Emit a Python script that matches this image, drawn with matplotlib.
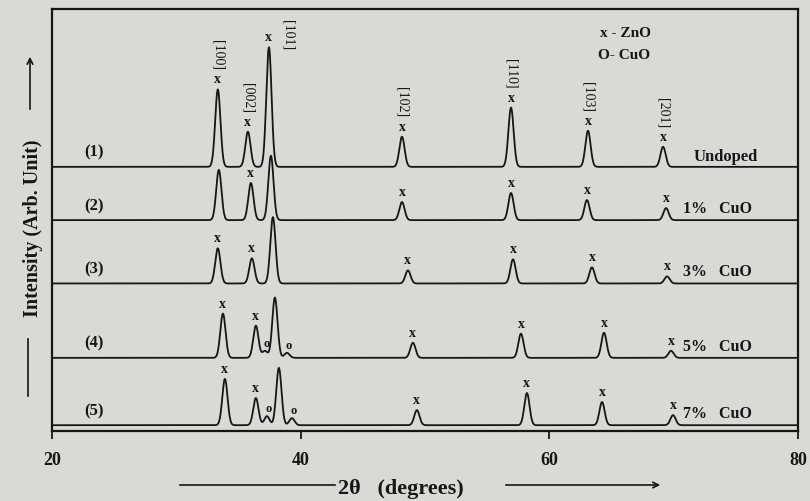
import matplotlib.pyplot as plt
import numpy as np
from matplotlib.lines import Line2D

# planos de ZnO y etiquetas de cada muestra
planos = ["[100]", "[002]", "[101]", "[102]", "[110]", "[103]", "[201]"]
muestras = ["(1)", "(2)", "(3)", "(4)", "(5)"]
dopajes = ["Undoped", "1%   CuO", "3%   CuO", "5%   CuO", "7%   CuO"]

# linea base de cada patron (unidades arbitrarias)
bases = [263, 210, 147, 73, 6]

# posiciones (2theta) y alturas de los picos de ZnO
pos_zno = [
    [33.35, 35.77, 37.46, 48.16, 56.93, 63.12, 69.16],
    [33.43, 36.01, 37.62, 48.16, 56.93, 63.04, 69.40],
    [33.35, 36.09, 37.78, 48.64, 57.09, 63.44, 69.48],
    [33.76, 36.41, 37.94, 49.04, 57.73, 64.41, 69.80],
    [33.92, 36.41, 38.26, 49.36, 58.21, 64.25, 69.96],
]
alt_zno = [
    [77, 35, 119, 30, 59, 36, 20],
    [50, 37, 64, 18, 27, 20, 12],
    [35, 25, 66, 13, 24, 16, 7],
    [44, 32, 60, 15, 24, 25, 7],
    [46, 27, 57, 15, 32, 23, 10],
]
# picos marcados con "x" en cada patron
marcados = [
    [1, 1, 1, 1, 1, 1, 1],
    [0, 1, 0, 1, 1, 1, 1],
    [1, 1, 0, 1, 1, 1, 1],
    [1, 1, 0, 1, 1, 1, 1],
    [1, 1, 0, 1, 1, 1, 1],
]

# picos pequeños de CuO (solo muestras 4 y 5)
pos_cuo = [[], [], [], [37.14, 38.91], [37.30, 39.31]]
alt_cuo = [[], [], [], [7, 5], [9, 7]]

FONDO = "#d9d9d5"
TINTA = "#161616"
SERIF = ["Liberation Serif", "DejaVu Serif"]
SIGMA = 0.21


def perfil(theta, posiciones, alturas):
    y = np.zeros_like(theta)
    for p, h in zip(posiciones, alturas):
        y += h * np.exp(-(theta - p) ** 2 / (2 * SIGMA ** 2))
    return y


fig = plt.figure(figsize=(8.1, 5.02), dpi=100, facecolor=FONDO)
ax = fig.add_axes([0.064, 0.139, 0.921, 0.841], facecolor=FONDO)

theta = np.linspace(20, 80, 4000)
for i in range(len(muestras)):
    y = bases[i] + perfil(theta, pos_zno[i], alt_zno[i]) + perfil(theta, pos_cuo[i], alt_cuo[i])
    ax.plot(theta, y, color=TINTA, lw=1.3)

    # marcas "x" sobre los picos de ZnO
    for p, h, m in zip(pos_zno[i], alt_zno[i], marcados[i]):
        if m:
            ax.text(p, bases[i] + h + 4, "x", ha="center", va="bottom",
                    fontsize=10, fontweight="bold", family=SERIF, color=TINTA)
    # marcas "o" de CuO
    for p, h in zip(pos_cuo[i], alt_cuo[i]):
        ax.text(p + 0.15, bases[i] + h + 2, "o", ha="center", va="bottom",
                fontsize=9, fontweight="bold", family=SERIF, color=TINTA)

    ax.text(22.6, bases[i] + 15, muestras[i], ha="left", va="center",
            fontsize=12, fontweight="bold", family=SERIF, color=TINTA)
    if i == 0:
        ax.text(71.6, bases[i] + 3, dopajes[i], ha="left", va="bottom",
                fontsize=12, fontweight="bold", family=SERIF, color=TINTA)
    else:
        ax.text(70.8, bases[i] + 12, dopajes[i], ha="left", va="center",
                fontsize=11.5, fontweight="bold", family=SERIF, color=TINTA)

# indices de Miller del patron sin dopar
for j, (p, h) in enumerate(zip(pos_zno[0], alt_zno[0])):
    if planos[j] == "[101]":
        ax.text(p + 1.5, bases[0] + h - 2, planos[j], rotation=270, ha="center",
                va="bottom", fontsize=10, family=SERIF, color=TINTA)
    else:
        ax.text(p, bases[0] + h + 20, planos[j], rotation=270, ha="center",
                va="bottom", fontsize=10, family=SERIF, color=TINTA)

# leyenda
ax.text(64.1, 397, "x - ZnO", ha="left", va="center", fontsize=11,
        fontweight="bold", family=SERIF, color=TINTA)
ax.text(63.9, 375, "O- CuO", ha="left", va="center", fontsize=11,
        fontweight="bold", family=SERIF, color=TINTA)

ax.set_xlim(20, 80)
ax.set_ylim(0, 420)
ax.set_xticks([20, 40, 60, 80])
ax.set_xticklabels(["20", "40", "60", "80"], family=SERIF, fontweight="bold", fontsize=13)
ax.set_yticks([])
ax.tick_params(axis="x", direction="out", length=6, width=1.3, colors=TINTA, pad=8)
for s in ax.spines.values():
    s.set_color(TINTA)
    s.set_linewidth(1.6)

# etiqueta del eje x con flecha
fig.text(338 / 810, 1 - 489 / 502, "2θ   (degrees)", ha="left", va="center",
         fontsize=16, fontweight="bold", family=SERIF, color=TINTA)
fig.add_artist(Line2D([180 / 810, 335 / 810], [1 - 486 / 502, 1 - 486 / 502],
                      color=TINTA, lw=1.2))
ax.annotate("", xy=(663, 502 - 486), xytext=(503, 502 - 486), xycoords="figure pixels",
            textcoords="figure pixels", arrowprops=dict(arrowstyle="->", color=TINTA, lw=1.2))

# etiqueta del eje y con flecha
fig.text(33 / 810, 1 - 228 / 502, "Intensity (Arb. Unit)", rotation=90, ha="center",
         va="center", fontsize=14.5, fontweight="bold", family=SERIF, color=TINTA)
fig.add_artist(Line2D([28 / 810, 28 / 810], [1 - 397 / 502, 1 - 340 / 502],
                      color=TINTA, lw=1.2))
ax.annotate("", xy=(30, 502 - 55), xytext=(30, 502 - 113), xycoords="figure pixels",
            textcoords="figure pixels", arrowprops=dict(arrowstyle="->", color=TINTA, lw=1.2))

fig.savefig("out.png", dpi=100, facecolor=FONDO)
